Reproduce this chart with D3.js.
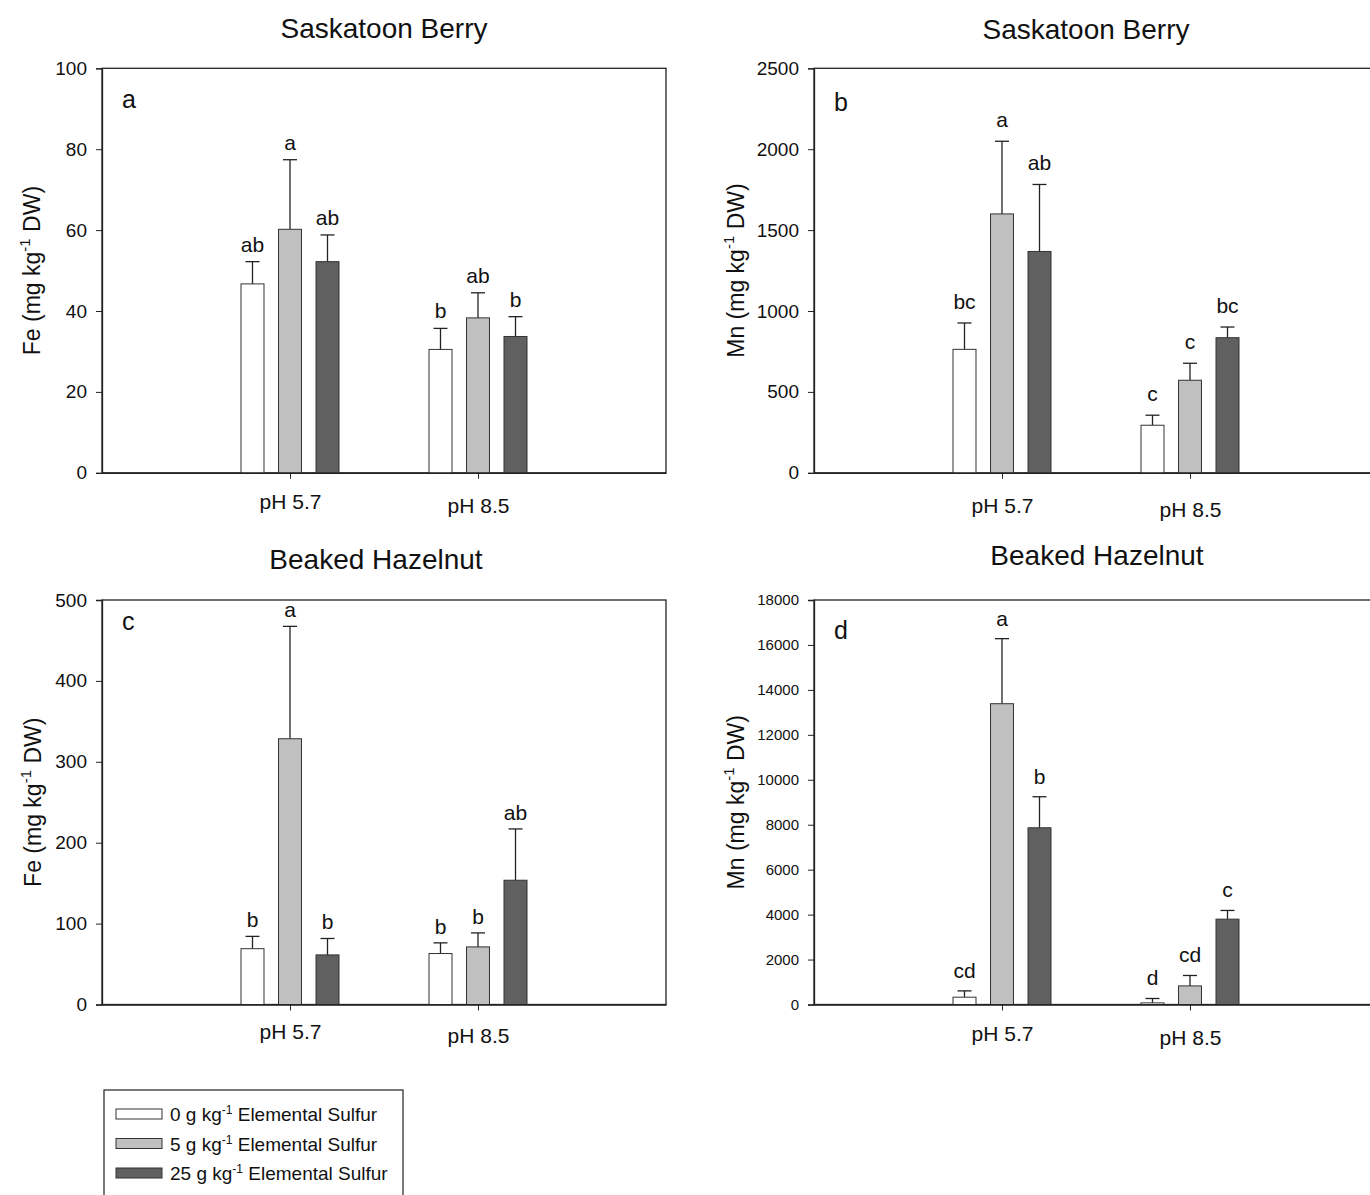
<!DOCTYPE html>
<html lang="en">
<head>
	<meta charset="UTF-8" />
	<title>Fe and Mn - Saskatoon Berry / Beaked Hazelnut</title>
	<script type="text/javascript" src="https://cdn.jsdelivr.net/npm/d3@7/dist/d3.min.js"></script>
	<style>
		body { margin: 0; background: #fff; }
		text { font-family: "Liberation Sans", Arial, sans-serif; fill: #111; }
	</style>
</head>
<body>
	<svg id="vis" width="1370" height="1195"></svg>
	<script type="text/javascript">
		// Categories and treatments
		var categories = ["pH 5.7", "pH 8.5"];
		var treatments = ["0", "5", "25"];  // g kg-1 elemental sulfur
		var fills = ["#ffffff", "#c0c0c0", "#606060"];

		// Fe, Saskatoon Berry (a)
		var feSaskatoon = [[46.7, 60.2, 52.2], [30.5, 38.3, 33.7]];
		var feSaskatoonErr = [[5.5, 17.2, 6.6], [5.2, 6.2, 4.9]];
		var feSaskatoonLetters = [["ab", "a", "ab"], ["b", "ab", "b"]];
		var feSaskatoonTicks = [0, 20, 40, 60, 80, 100];

		// Mn, Saskatoon Berry (b)
		var mnSaskatoon = [[763, 1600, 1368], [294, 572, 835]];
		var mnSaskatoonErr = [[163, 449, 414], [62, 105, 66]];
		var mnSaskatoonLetters = [["bc", "a", "ab"], ["c", "c", "bc"]];
		var mnSaskatoonTicks = [0, 500, 1000, 1500, 2000, 2500];

		// Fe, Beaked Hazelnut (c)
		var feHazelnut = [[69, 328.5, 61.3], [63, 71.2, 153.6]];
		var feHazelnutErr = [[15.2, 138.9, 20.3], [13.2, 17.3, 63.4]];
		var feHazelnutLetters = [["b", "a", "b"], ["b", "b", "ab"]];
		var feHazelnutTicks = [0, 100, 200, 300, 400, 500];

		// Mn, Beaked Hazelnut (d)
		var mnHazelnut = [[325, 13385, 7864], [72, 828, 3798]];
		var mnHazelnutErr = [[281, 2895, 1381], [195, 463, 387]];
		var mnHazelnutLetters = [["cd", "a", "b"], ["d", "cd", "c"]];
		var mnHazelnutTicks = [0, 2000, 4000, 6000, 8000, 10000, 12000, 14000, 16000, 18000];

		var svg = d3.select("#vis");
		var W = 564, H = 404.5;

		var panels = [
			{ x: 102, y: 68.3, title: "Saskatoon Berry", titleX: 384, titleY: 38, el: "Fe", tag: "a", tagY: 40,
			  vals: feSaskatoon, err: feSaskatoonErr, letters: feSaskatoonLetters, ticks: feSaskatoonTicks,
			  tickFont: 19, gap: 10, labelX: -62, catDy: 36 },
			{ x: 814, y: 68.3, title: "Saskatoon Berry", titleX: 1086, titleY: 39, el: "Mn", tag: "b", tagY: 43,
			  vals: mnSaskatoon, err: mnSaskatoonErr, letters: mnSaskatoonLetters, ticks: mnSaskatoonTicks,
			  tickFont: 19, gap: 14, labelX: -70, catDy: 40 },
			{ x: 102, y: 600, title: "Beaked Hazelnut", titleX: 376, titleY: 569, el: "Fe", tag: "c", tagY: 30,
			  vals: feHazelnut, err: feHazelnutErr, letters: feHazelnutLetters, ticks: feHazelnutTicks,
			  tickFont: 19, gap: 9, labelX: -61, catDy: 34 },
			{ x: 814, y: 600, title: "Beaked Hazelnut", titleX: 1097, titleY: 565, el: "Mn", tag: "d", tagY: 39,
			  vals: mnHazelnut, err: mnHazelnutErr, letters: mnHazelnutLetters, ticks: mnHazelnutTicks,
			  tickFont: 15, gap: 13, labelX: -70, catDy: 36 }
		];

		// Echelles X communes
		var x0 = d3.scalePoint().domain(categories).range([0, W]).padding(1);
		var x1 = d3.scaleBand().domain(treatments).range([-49, 49]).paddingInner(0.387);

		panels.forEach(function(p) {
			// titre
			svg.append("text")
				.attr("x", p.titleX).attr("y", p.titleY)
				.attr("text-anchor", "middle")
				.style("font-size", "28px")
				.text(p.title);

			var g = svg.append("g").attr("transform", "translate(" + p.x + "," + p.y + ")");

			var y = d3.scaleLinear()
				.domain([p.ticks[0], p.ticks[p.ticks.length - 1]])
				.range([H, 0]);

			// cadre
			g.append("rect")
				.attr("x", 0).attr("y", 0).attr("width", W).attr("height", H)
				.attr("fill", "none").attr("stroke", "#222").attr("stroke-width", 1.3);

			// barres
			categories.forEach(function(c, i) {
				treatments.forEach(function(t, j) {
					var bx = x0(c) + x1(t);
					var v = p.vals[i][j], e = p.err[i][j];
					var cx = bx + x1.bandwidth() / 2;

					// barre d'erreur (haut seulement)
					g.append("line")
						.attr("x1", cx).attr("x2", cx)
						.attr("y1", y(v)).attr("y2", y(v + e))
						.attr("stroke", "#222").attr("stroke-width", 1.3);
					g.append("line")
						.attr("x1", cx - 7).attr("x2", cx + 7)
						.attr("y1", y(v + e)).attr("y2", y(v + e))
						.attr("stroke", "#222").attr("stroke-width", 1.3);

					g.append("rect")
						.attr("x", bx).attr("y", y(v))
						.attr("width", x1.bandwidth())
						.attr("height", H - y(v))
						.attr("fill", fills[j])
						.attr("stroke", "#333").attr("stroke-width", 1);

					// lettres
					g.append("text")
						.attr("x", cx).attr("y", y(v + e) - p.gap)
						.attr("text-anchor", "middle")
						.style("font-size", "21px")
						.text(p.letters[i][j]);
				});
			});

			// axe Y
			var yAxis = d3.axisLeft(y).tickValues(p.ticks).tickSize(6).tickPadding(9).tickFormat(d3.format("d"));
			var gy = g.append("g").call(yAxis);
			gy.select(".domain").attr("stroke", "#222").attr("stroke-width", 1.3);
			gy.selectAll(".tick line").attr("stroke", "#222");
			gy.selectAll(".tick text").style("font-size", p.tickFont + "px").attr("fill", "#111");

			// axe X
			var xAxis = d3.axisBottom(x0).tickSize(6).tickPadding(0).tickSizeOuter(0);
			var gx = g.append("g").attr("transform", "translate(0," + H + ")").call(xAxis);
			gx.select(".domain").attr("stroke", "#222").attr("stroke-width", 1.3);
			gx.selectAll(".tick line").attr("stroke", "#222");
			gx.selectAll(".tick text")
				.attr("dy", null)
				.attr("y", function(d, i) { return p.catDy + i * 4; })
				.style("font-size", "21px").attr("fill", "#111");

			// lettre du panneau
			g.append("text")
				.attr("x", 20).attr("y", p.tagY)
				.style("font-size", "25px")
				.text(p.tag);

			// titre axe Y
			var lab = g.append("text")
				.attr("transform", "translate(" + p.labelX + "," + (H / 2) + ") rotate(-90)")
				.attr("text-anchor", "middle")
				.style("font-size", "23px");
			lab.append("tspan").text(p.el + " (mg kg");
			lab.append("tspan").attr("dy", -10).style("font-size", "15px").text("-1");
			lab.append("tspan").attr("dy", 10).text(" DW)");
		});

		// Légende
		var leg = svg.append("g").attr("transform", "translate(104,1090)");
		leg.append("rect")
			.attr("x", 0).attr("y", 0).attr("width", 299).attr("height", 120)
			.attr("fill", "#fff").attr("stroke", "#222").attr("stroke-width", 1.2);
		treatments.forEach(function(t, j) {
			leg.append("rect")
				.attr("x", 12).attr("y", 19 + j * 29.5)
				.attr("width", 46).attr("height", 10)
				.attr("fill", fills[j]).attr("stroke", "#333").attr("stroke-width", 1);
			var tx = leg.append("text")
				.attr("x", 66).attr("y", 31 + j * 29.5)
				.style("font-size", "19px");
			tx.append("tspan").text(t + " g kg");
			tx.append("tspan").attr("dy", -7).style("font-size", "12px").text("-1");
			tx.append("tspan").attr("dy", 7).text(" Elemental Sulfur");
		});
	</script>
</body>
</html>
